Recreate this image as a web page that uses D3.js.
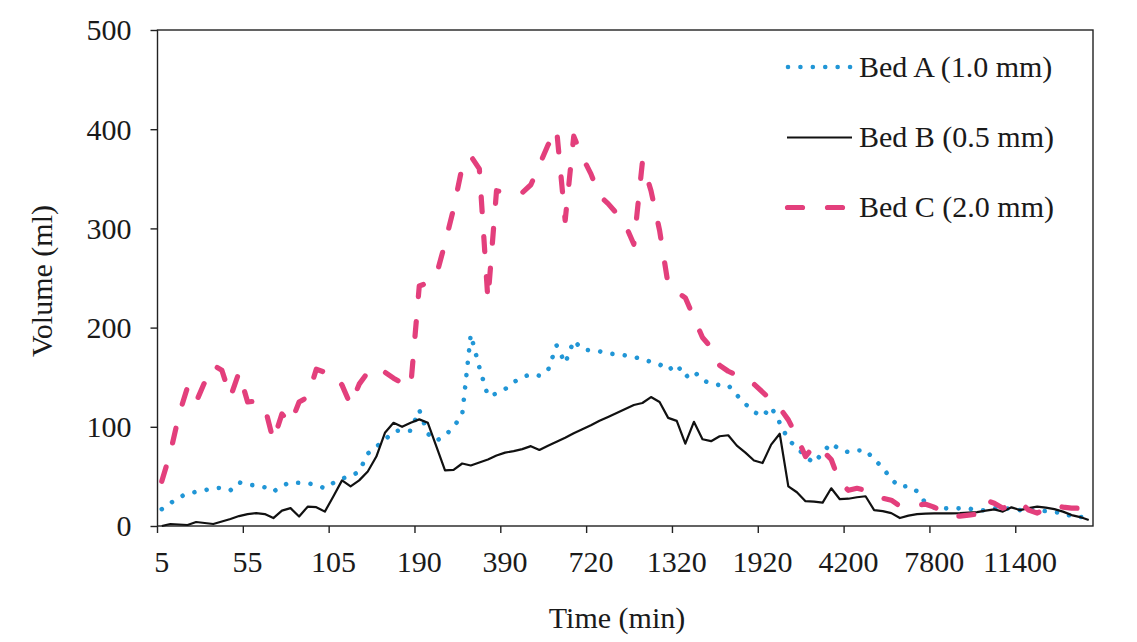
<!DOCTYPE html>
<html><head><meta charset="utf-8">
<script src="https://cdn.jsdelivr.net/npm/d3@7"></script>
<style>
body{margin:0;background:#fff}
svg{display:block;background:#fff}
text{font-family:"Liberation Serif","Times New Roman",serif;fill:#1a1a1a}
</style>
</head><body><svg id="c" width="1137" height="642"></svg>
<script>
// Categories (time, min) - one per data point; only some are labelled
const timeMin = [5,10,15,20,25,30,35,40,45,50,55,
  60,65,70,75,80,85,90,95,100,105,
  110,115,120,125,130,140,150,160,175,190,
  210,230,250,270,290,310,330,350,370,390,
  420,450,480,510,540,570,600,630,660,720,
  780,840,900,960,1020,1080,1140,1200,1260,1320,
  1380,1440,1500,1560,1620,1680,1740,1800,1860,1920,
  2100,2280,2460,2640,2880,3120,3360,3600,3900,4200,
  4560,4920,5280,5640,6000,6360,6720,7080,7440,7800,
  8160,8520,8880,9240,9600,9960,10320,10680,11040,11400,
  11760,12120,12480,12840,13200,13560,13920,14280];
const tickLabels = ["5","55","105","190","390","720","1320","1920","4200","7800","11400"];
const yTicks = [0,100,200,300,400,500];
const seriesNames = ["Bed A (1.0 mm)","Bed B (0.5 mm)","Bed C (2.0 mm)"];

const bedA = [17,23,29,32.5,34.5,36,38,38.5,36,44,
  41.5,41,39,34.6,40.5,44,43.5,43,41.5,38,
  43.5,48,50,55,73,80,87,95,97,96,
  117,93,86,91,100,112,193,160,131,133.5,
  138,145,150,153,151.5,157,182,164,187,178,
  177,176,174,173,172,170.5,168,165.5,163,157,
  163,150,156,147,143.5,142,142,132,123,115,
  110.5,120,104,87,79,70,63.5,74,83.5,77,
  74.5,76,76.6,67,59,47,39.5,40.3,35,23,
  18.5,17.8,17.8,17.8,17.8,15.5,16,17.8,18.5,17,
  16,16,15.5,15,14,13,10,9,9.4];
const bedB = [0,2,1.5,1,4,3,2,4.5,7,10,
  12,13,12,8,15.5,18,9.5,19.5,19,14.5,
  30,46,40,46,55,70,94,104,100,104,
  107.5,104,80,56,56.5,63,61,64,67,71,
  74,75.5,77.5,80.5,76.6,81,85,89,93.5,97.5,
  101.5,106,110,114,118,122,124,130,125,109,
  106,83,105,87.5,85.5,90.5,91.5,81,74,66,
  63.5,82,93,40,34,25,24.5,23.5,38,27,
  27.5,29,30,16,15,13,8,10.5,12,12.5,
  12.8,12.8,12.8,13,13.5,14,15.5,16.8,14.5,18.8,
  16,18,19.5,18.5,17,14.5,11,9,6];
const bedC = [45,74,112,140,125,145,162,157,130,155,
  125,126,120,86,113,103,125,130,158,155,
  154,142,122,143,155,160,155,149,144,140,
  242,245,253,285,320,362,373,360,228,338,
  336,334,336,344,364,384,400,308,393,372,
  355,333,325,315,304,284,367,338,298,243,
  236,230,210,190,180,162,156,152,147,143,
  135,127,119,107,90,70,81,76,67,44,
  36,38,36,30,28,26,20,19,21,22,
  19,14,10,10,11,12,26,23,18,21,
  24.5,16,13,18,21,19,18,18,18];

const svg = d3.select("#c");
const L = 157.5, R = 1093, T = 30, B = 526;
const FS = 30;
const x = d3.scaleBand().domain(timeMin).range([L, R]).padding(0);
const y = d3.scaleLinear().domain([0, 500]).range([B, T]);
const bw = x.bandwidth();
const cx = t => x(t) + bw / 2;
const axisColor = "#222";

// frame
svg.append("rect").attr("x", L).attr("y", T).attr("width", R - L).attr("height", B - T)
  .attr("fill", "none").attr("stroke", axisColor).attr("stroke-width", 1.4);

// y axis
const ya = svg.append("g").attr("transform", `translate(${L},0)`)
  .call(d3.axisLeft(y).tickValues(yTicks).tickSize(7).tickPadding(19).tickFormat(d3.format("d")));
ya.select(".domain").remove();
ya.selectAll(".tick line").attr("stroke", axisColor).attr("stroke-width", 1.4);
ya.selectAll(".tick text").attr("font-size", FS).attr("dy", "0.33em");

// x axis
const xa = svg.append("g").attr("transform", `translate(0,${B})`)
  .call(d3.axisBottom(x).tickValues(timeMin.filter(t => tickLabels.includes(String(t))))
    .tickSize(7).tickFormat(d => String(d)));
xa.select(".domain").remove();
xa.selectAll(".tick line").attr("x1", -bw / 2).attr("x2", -bw / 2)
  .attr("stroke", axisColor).attr("stroke-width", 1.4);
xa.selectAll(".tick text").attr("font-size", FS).attr("y", 45.5).attr("dy", 0);

// series
const line = d3.line().x((d, i) => cx(timeMin[i])).y(d => y(d));
const styles = [
  {data: bedA, stroke: "#2196d6", width: 4.6, dash: "0.01,12.4", cap: "round"},
  {data: bedB, stroke: "#111", width: 2.2, dash: null, cap: "butt"},
  {data: bedC, stroke: "#e33f7c", width: 5.2, dash: "15,25", cap: "round"}
];
styles.forEach(s => {
  svg.append("path").datum(s.data).attr("d", line)
    .attr("fill", "none").attr("stroke", s.stroke).attr("stroke-width", s.width)
    .attr("stroke-linejoin", "round").attr("stroke-linecap", s.cap)
    .attr("stroke-dasharray", s.dash);
});

// legend
const legY = [67, 137.5, 207.5];
const leg = svg.append("g");
styles.forEach((s, i) => {
  const x0 = i === 0 ? 788 : (i === 1 ? 787 : 787.5);
  const x1 = i === 0 ? 852 : (i === 1 ? 852 : 842.5);
  leg.append("line").attr("x1", x0).attr("x2", x1).attr("y1", legY[i]).attr("y2", legY[i])
    .attr("stroke", s.stroke).attr("stroke-width", s.width)
    .attr("stroke-linecap", s.cap).attr("stroke-dasharray", s.dash);
  leg.append("text").attr("x", 859).attr("y", legY[i] + 9.5).attr("font-size", FS).text(seriesNames[i]);
});

// axis titles
svg.append("text").attr("x", 617).attr("y", 628).attr("text-anchor", "middle")
  .attr("font-size", FS).text("Time (min)");
svg.append("text").attr("transform", "translate(52,281) rotate(-90)").attr("text-anchor", "middle")
  .attr("font-size", FS).text("Volume (ml)");
</script>
</body></html>
